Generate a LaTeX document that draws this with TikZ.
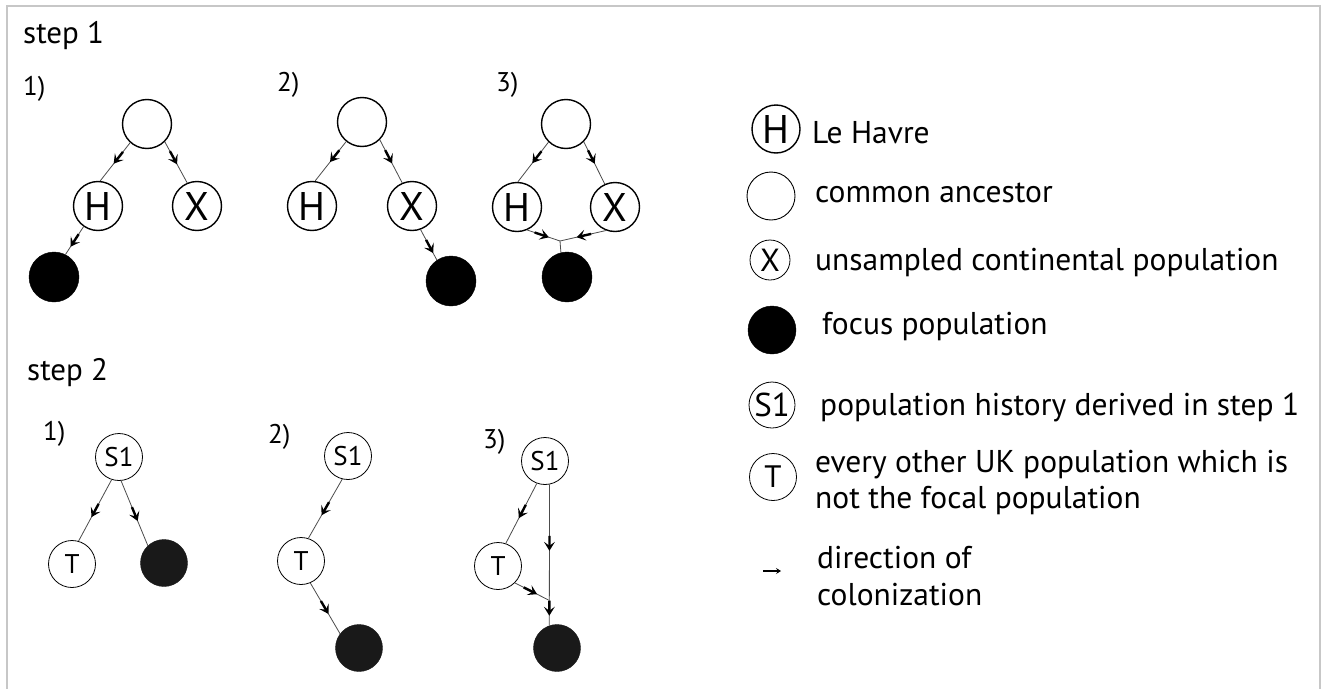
\documentclass[tikz,border=0pt]{standalone}
\usepackage{fontspec}
\setmainfont{PT Sans}
\usetikzlibrary{arrows.meta,decorations.markings}
\newcommand\mytipdraw{\draw[line width=2.4pt, black] (-15pt,0pt) -- (-4pt,0pt); \fill[black] (0pt,0pt) -- (-9pt,5.5pt) -- (-5pt,0pt) -- (-9pt,-5.5pt) -- cycle;}
\tikzset{
  popA/.style={circle, draw=black, line width=1.4pt, minimum size=49pt, inner sep=0pt, fill=white, font=\fontsize{40}{40}\selectfont},
  focA/.style={circle, fill=black, draw=black, minimum size=50pt, inner sep=0pt},
  popB/.style={circle, draw=black, line width=0.8pt, minimum size=47pt, inner sep=0pt, fill=white, font=\fontsize{27}{27}\selectfont},
  focB/.style={circle, fill=black!90, draw=black!90, minimum size=47pt, inner sep=0pt},
  conn/.style={draw=black!70, line width=0.8pt},
  tipat/.style={postaction={decorate, decoration={markings, mark=at position #1 with {\mytipdraw}}}},
  twotips/.style 2 args={postaction={decorate, decoration={markings,
     mark=at position #1 with {\mytipdraw},
     mark=at position #2 with {\mytipdraw}}}},
  title/.style={anchor=base west, inner sep=0pt, font=\fontsize{31}{31}\selectfont},
  plab/.style={anchor=base west, inner sep=0pt, font=\fontsize{27}{27}\selectfont},
  legtxt/.style={anchor=base west, inner sep=0pt, font=\fontsize{31.5}{31.5}\selectfont},
}
\begin{document}
\begin{tikzpicture}[x=1pt, y=-1pt]
\useasboundingbox (0,0) rectangle (1327,688);
\fill[white] (0,0) rectangle (1327,688);
\draw[black!22, line width=1.3pt] (7,700) -- (7,6) -- (1320,6) -- (1320,700);

% titles
\node[title] (t1) at (23,43) {step 1};
\node[title] (t2) at (27,380) {step 2};
\node[plab] (p11) at (23,95) {1)};
\node[plab] (p12) at (277,91) {2)};
\node[plab] (p13) at (496,91) {3)};
\node[plab] (p21) at (43,440) {1)};
\node[plab] (p22) at (268,443) {2)};
\node[plab] (p23) at (483,448) {3)};

% step 1 panel 1
\node[popA] (A1) at (147,124) {};
\node[popA] (H1) at (98,206) {H};
\node[popA] (X1) at (197,206) {X};
\node[focA] (B1) at (54,277) {};
\draw[conn, tipat=0.55] (A1.228) -- (H1.85);
\draw[conn, tipat=0.55] (A1.315) -- (X1.113);
\draw[conn, tipat=0.72] (H1.235) -- (B1.63);

% step 1 panel 2
\node[popA] (A2) at (362,122) {};
\node[popA] (H2) at (312,206) {H};
\node[popA] (X2) at (412,206) {X};
\node[focA] (B2) at (451,281) {};
\draw[conn, tipat=0.52] (A2.231) -- (H2.83);
\draw[conn, tipat=0.55] (A2.315) -- (X2.113);
\draw[conn, tipat=0.77] (X2.290) -- (B2.124);

% step 1 panel 3
\node[popA] (A3) at (566,124) {};
\node[popA] (H3) at (517,207) {H};
\node[popA] (X3) at (615,207) {X};
\node[focA] (B3) at (567,277) {};
\coordinate (J3) at (560,241);
\draw[conn, tipat=0.53] (A3.226) -- (H3.88);
\draw[conn, tipat=0.52] (A3.315) -- (X3.114);
\draw[conn, tipat=0.66] (H3.294) -- (J3);
\draw[conn, tipat=0.64] (X3.249) -- (J3);
\draw[conn] (J3) -- (B3.104);

% step 2 panel 1
\node[popB] (S4) at (119,457) {S1};
\node[popB] (T4) at (72,564) {T};
\node[focB] (B4) at (164,563) {};
\draw[conn, tipat=0.61] (S4.252) -- (T4.74);
\draw[conn, tipat=0.62] (S4.275) -- (B4.133);

% step 2 panel 2
\node[popB] (S5) at (348,456) {S1};
\node[popB] (T5) at (301,561) {T};
\node[focB] (B5) at (359,648) {};
\draw[conn, tipat=0.61] (S5.256) -- (T5.72);
\draw[conn, tipat=0.61] (T5.293) -- (B5.143);

% step 2 panel 3
\node[popB] (S6) at (545,461) {S1};
\node[popB] (T6) at (498,566) {T};
\node[focB] (B6) at (557,648) {};
\coordinate (J6) at (548.5,600);
\draw[conn, tipat=0.58] (S6.250) -- (T6.71);
\draw[conn, twotips={0.47}{0.93}] (S6.281) -- (B6.109);
\draw[conn, tipat=0.66] (T6.315) -- (J6);

% legend
\node[popA, minimum size=48pt] (LH) at (776,129) {H};
\node[popB, minimum size=48pt, line width=0.9pt] (LA) at (771,196) {};
\node[popB, minimum size=40pt, font=\fontsize{32}{32}\selectfont] (LX) at (770,260) {X};
\node[focA, minimum size=48pt] (LB) at (772,330) {};
\node[popB, minimum size=46pt, font=\fontsize{33}{33}\selectfont] (LS) at (772,405) {S1};
\node[popB, minimum size=47pt, font=\fontsize{31}{31}\selectfont] (LT) at (773,477) {T};
\coordinate (LR1) at (763,571);
\coordinate (LR2) at (781,571);
\draw[line width=1.3pt, -{Stealth[length=5pt,width=6pt,inset=2pt]}] (LR1) -- (LR2);

\node[legtxt] (tH) at (812,143) {Le Havre};
\node[legtxt] (tA) at (815,202) {common ancestor};
\node[legtxt] (tX) at (815,270) {unsampled continental population};
\node[legtxt] (tB) at (822,334) {focus population};
\node[legtxt] (tS) at (820,415) {population history derived in step 1};
\node[legtxt] (tT1) at (815,472) {every other UK population which is};
\node[legtxt] (tT2) at (815,508) {not the focal population};
\node[legtxt] (tR1) at (817,568) {direction of};
\node[legtxt] (tR2) at (817,605) {colonization};
\end{tikzpicture}
\end{document}
